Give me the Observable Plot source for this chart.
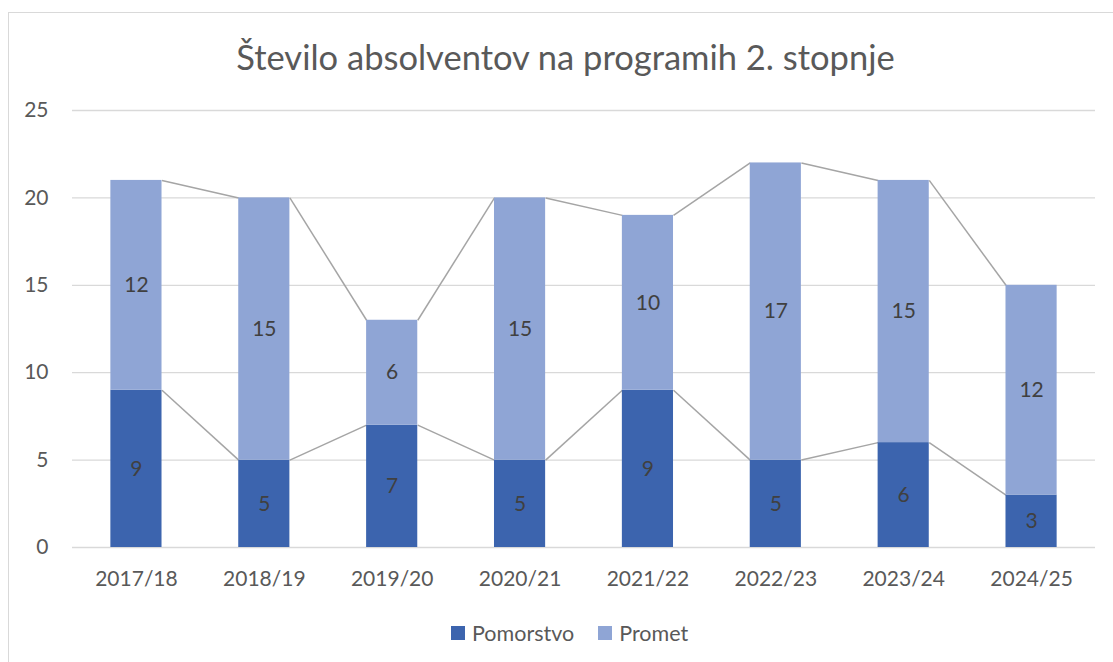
<!DOCTYPE html>
<html>
<head>
<meta charset="utf-8">
<script src="https://cdn.jsdelivr.net/npm/d3@7"></script>
<script src="https://cdn.jsdelivr.net/npm/@observablehq/plot@0.6"></script>
<style>
  html, body { margin: 0; padding: 0; background: #fff; }
  body { width: 1113px; height: 662px; overflow: hidden; position: relative; font-family: Lato, "Open Sans", sans-serif; }
  #frame { position: absolute; left: 8px; top: 12px; width: 1110px; height: 700px; border: 1px solid #d9d9d9; box-sizing: border-box; }
  #title { position: absolute; left: 0; width: 1131px; top: 40px; text-align: center; font-size: 34.5px; font-weight: 400; color: #595959; line-height: 1; }
  #chart { position: absolute; left: 0; top: 0; }
  #legend { position: absolute; top: 620px; left: 451px; display: flex; align-items: center; font-size: 21.5px; color: #595959; }
  #legend .sw { width: 14px; height: 14px; display: inline-block; margin-right: 7px; }
  #legend .item { display: flex; align-items: center; margin-right: 24px; }
</style>
</head>
<body>
<div id="frame"></div>
<div id="chart"></div>
<div id="title">Število absolventov na programih 2. stopnje</div>
<div id="legend"></div>
<script>
const years = ["2017/18", "2018/19", "2019/20", "2020/21", "2021/22", "2022/23", "2023/24", "2024/25"];
const pomorstvo = [9, 5, 7, 5, 9, 5, 6, 3];
const promet = [12, 15, 6, 15, 10, 17, 15, 12];
const seriesNames = ["Pomorstvo", "Promet"];
const seriesColors = ["#3c64ae", "#8fa5d5"];
const yTicks = [0, 5, 10, 15, 20, 25];

const half = 0.2;
const rows = [];
years.forEach((yr, i) => {
  rows.push({i, year: yr, series: "Pomorstvo", y1: 0, y2: pomorstvo[i], v: pomorstvo[i]});
  rows.push({i, year: yr, series: "Promet", y1: pomorstvo[i], y2: pomorstvo[i] + promet[i], v: promet[i]});
});
const links = [];
for (let i = 0; i < years.length - 1; i++) {
  links.push({x1: i + half, x2: i + 1 - half, y1: pomorstvo[i], y2: pomorstvo[i + 1]});
  links.push({x1: i + half, x2: i + 1 - half, y1: pomorstvo[i] + promet[i], y2: pomorstvo[i + 1] + promet[i + 1]});
}

const plot = Plot.plot({
  width: 1113,
  height: 662,
  marginLeft: 72,
  marginRight: 18,
  marginTop: 110,
  marginBottom: 115,
  style: {fontFamily: "Lato, 'Open Sans', sans-serif", fontSize: "21px", color: "#595959", background: "transparent"},
  x: {domain: [-0.5, years.length - 0.5], axis: null},
  y: {domain: [0, 25], axis: null},
  color: {domain: seriesNames, range: seriesColors},
  marks: [
    Plot.ruleY(yTicks, {y: d => d, stroke: "#d9d9d9", strokeWidth: 1.3}),
    Plot.link(links, {x1: "x1", x2: "x2", y1: "y1", y2: "y2", stroke: "#a5a5a5", strokeWidth: 1.5}),
    Plot.rect(rows, {x1: d => d.i - half, x2: d => d.i + half, y1: "y1", y2: "y2", fill: "series"}),
    Plot.text(rows, {x: "i", y: d => (d.y1 + d.y2) / 2, text: "v", fill: "#404040", fontSize: 21}),
    Plot.text(yTicks, {x: -0.5, y: d => d, text: d => String(d), textAnchor: "end", dx: -24, fill: "#595959", fontSize: 21}),
    Plot.text(years, {x: (d, i) => i, y: 0, text: d => d, dy: 32, fill: "#595959", fontSize: 21})
  ]
});
document.getElementById("chart").appendChild(plot);

const legend = document.getElementById("legend");
seriesNames.forEach((s, k) => {
  const item = document.createElement("div");
  item.className = "item";
  const sw = document.createElement("span");
  sw.className = "sw";
  sw.style.background = seriesColors[k];
  const t = document.createElement("span");
  t.textContent = s;
  item.appendChild(sw);
  item.appendChild(t);
  legend.appendChild(item);
});
</script>
</body>
</html>
